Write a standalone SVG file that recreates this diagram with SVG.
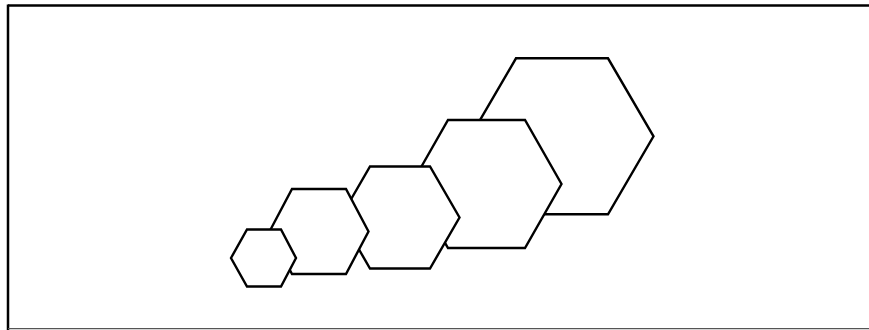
<svg xmlns="http://www.w3.org/2000/svg" width="869" height="330" viewBox="0 0 869 330">
<style>
.hex{fill:#ffffff;stroke:#000000;stroke-width:2.4;stroke-linejoin:miter}
.frame{stroke:#000000;stroke-width:2.5;fill:none}
</style>
<rect width="869" height="330" fill="#ffffff"/>
<g id="frame">
<line class="frame" x1="8" y1="5.5" x2="869" y2="5.5"/>
<line class="frame" x1="8" y1="4.5" x2="8" y2="330"/>
<line x1="8" y1="328.6" x2="869" y2="328.6" stroke="#555555" stroke-width="1.3"/>
</g>
<g id="hex5"><polygon class="hex" points="470.5,136.3 516,58.3 608,58.3 653.5,136.3 608,214.3 516,214.3"/></g>
<g id="hex4"><polygon class="hex" points="411.5,184 448,120 525,120 561.5,184 525,248 448,248"/></g>
<g id="hex3"><polygon class="hex" points="340.5,217.5 370,166.5 430,166.5 459.5,217.5 430,268.5 370,268.5"/></g>
<g id="hex2"><polygon class="hex" points="269.5,231.5 292,189 346,189 368.5,231.5 346,274 292,274"/></g>
<g id="hex1"><polygon class="hex" points="231,258 247,229.5 281,229.5 296,258 281,286.5 247,286.5"/></g>
<g id="connectors"/>
</svg>
